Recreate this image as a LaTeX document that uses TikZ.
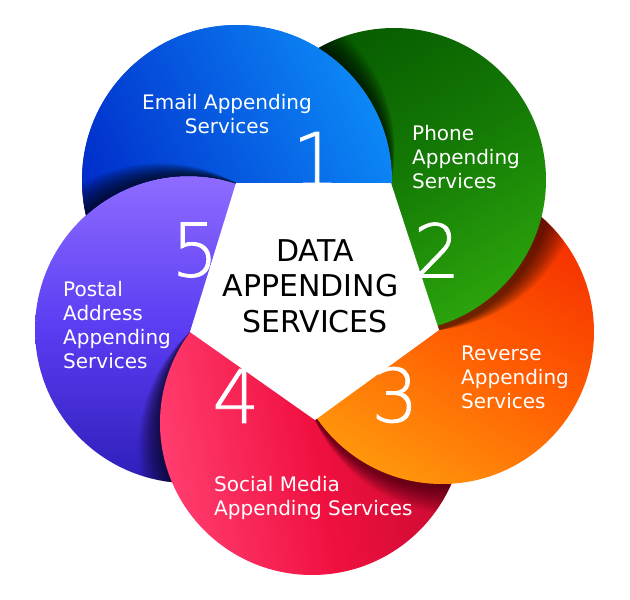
\documentclass[tikz,border=0pt]{standalone}
\usepackage{fontspec}
\setmainfont{DejaVu Sans}
\newfontfamily\thinfont[FakeBold=1]{DejaVu Sans ExtraLight}
\definecolor{bluea}{HTML}{0C88F6}\definecolor{blueb}{HTML}{0028C8}
\definecolor{greena}{HTML}{075C00}\definecolor{greenm}{HTML}{147A05}\definecolor{greenb}{HTML}{2BA30C}
\definecolor{orangea}{HTML}{F52E00}\definecolor{orangem}{HTML}{FF5E02}\definecolor{orangeb}{HTML}{FF960C}
\definecolor{reda}{HTML}{FF3D6E}\definecolor{redm}{HTML}{F01040}\definecolor{redb}{HTML}{C20A2E}
\definecolor{purplea}{HTML}{8E6CFF}\definecolor{purplem}{HTML}{5A3CF2}\definecolor{purpleb}{HTML}{2E1EB8}
\tikzset{
  petaltext/.style={text=white,font=\fontsize{20}{24}\selectfont,align=left,inner sep=0pt},
  titletext/.style={text=black,font=\fontsize{30}{35.5}\selectfont,align=center,inner sep=0pt},
  digit/.style={text=white,font=\thinfont\fontsize{74}{74}\selectfont,inner sep=0pt},
  hub/.style={fill=white,draw=none}
}
% cx cy vx vy angle length opacity
\newcommand{\castshadow}[7]{%
  \foreach \i in {1,...,15}{%
    \pgfmathsetmacro\nx{#1+\i/15*#6*cos(#5)}%
    \pgfmathsetmacro\ny{#2+\i/15*#6*sin(#5)}%
    \pgfmathsetmacro\nr{veclen(\nx-#3,\ny-#4)}%
    \fill[black,opacity=#7] (\nx,\ny) circle[radius=\nr];
  }%
}
\newcommand{\blueshape}{(237,180) circle[radius=155]}
\newcommand{\greenshape}{(394,180) circle[radius=152]}
\newcommand{\orangeshape}{(442,332) circle[radius=152]}
\newcommand{\redshape}{(312,423) circle[radius=152]}
\newcommand{\purpleshape}{(188.5,329.5) circle[radius=153.5]}
\newcommand{\blueall}{%
  \shade[top color=bluea,bottom color=blueb,shading angle=-65] \blueshape;
  \begin{scope}\clip \blueshape; \castshadow{188.5}{329.5}{236}{183}{198}{30}{.07}\end{scope}%
}
\begin{document}
\begin{tikzpicture}[x=1pt,y=-1pt]
\useasboundingbox (0,0) rectangle (630,600);
\blueall
\shade[top color=purplea,bottom color=purpleb,middle color=purplem,shading angle=0] \purpleshape;
\begin{scope}\clip \purpleshape; \castshadow{312}{423}{190}{332}{126}{30}{.06}\end{scope}
\shade[top color=reda,bottom color=redb,middle color=redm,shading angle=100] \redshape;
\begin{scope}\clip \redshape; \castshadow{442}{332}{315}{420}{54}{30}{.045}\end{scope}
\shade[top color=orangea,bottom color=orangeb,middle color=orangem,shading angle=-30] \orangeshape;
\begin{scope}\clip \orangeshape; \castshadow{394}{180}{439}{330}{-18}{30}{.05}\end{scope}
\shade[top color=greena,bottom color=greenb,middle color=greenm,shading angle=30] \greenshape;
\begin{scope}\clip \greenshape; \castshadow{237}{180}{391}{183}{-90}{30}{.07}\end{scope}
% blue lies over green but under purple
\begin{scope}[even odd rule]
  \clip (0,0) rectangle (630,600) \purpleshape;
  \blueall
\end{scope}
\fill[hub] (236,183) -- (391,183) -- (439,330) -- (315,420) -- (190,332) -- cycle;
\node[digit] (d1) at (316,159) {1};
\node[digit] (d2) at (437,250) {2};
\node[digit] (d3) at (395,395) {3};
\node[digit] (d4) at (236,396) {4};
\node[digit] (d5) at (195,250) {5};
\node[petaltext,align=center] (t1) at (227,114) {Email Appending\\Services};
\node[petaltext,anchor=west] (t2) at (412,157) {Phone\\Appending\\Services};
\node[petaltext,anchor=west] (t3) at (461,377) {Reverse\\Appending\\Services};
\node[petaltext,anchor=west] (t4) at (214,498) {Social Media\\Appending Services};
\node[petaltext,anchor=west] (t5) at (63,325) {Postal\\Address\\Appending\\Services};
\node[titletext] (title) at (310.5,286) {\hspace*{9pt}DATA\\APPENDING\\\hspace*{9pt}SERVICES};
\end{tikzpicture}
\end{document}
